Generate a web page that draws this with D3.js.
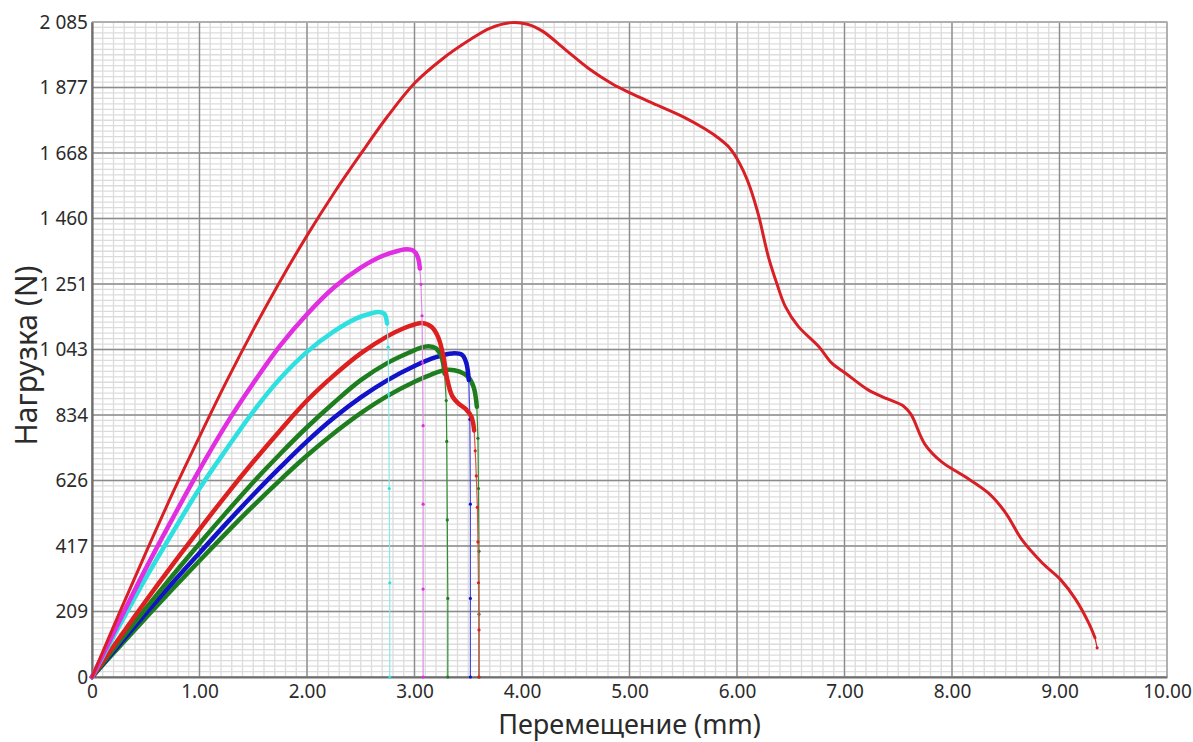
<!DOCTYPE html>
<html>
<head>
<meta charset="utf-8">
<script src="https://cdn.jsdelivr.net/npm/d3@7"></script>
<style>
  body { margin: 0; background: #fff; }
  svg { display: block; font-family: "Noto Sans", "Open Sans", sans-serif; }
</style>
</head>
<body>
<div id="chart-area"></div>
<script>
const margin = ({top: 22, right: 26, bottom: 65, left: 92});
const width = 1193, height = 742;

// Tick labels
const xTickValues = [0, 1, 2, 3, 4, 5, 6, 7, 8, 9, 10];
const xTickLabels = ["0", "1.00", "2.00", "3.00", "4.00", "5.00", "6.00", "7.00", "8.00", "9.00", "10.00"];
const yTickValues = [0, 208.5, 417, 625.5, 834, 1042.5, 1251, 1459.5, 1668, 1876.5, 2085];
const yTickLabels = ["0", "209", "417", "626", "834", "1 043", "1 251", "1 460", "1 668", "1 877", "2 085"];

// Series (x in mm, y in N)
const bigRedX = [0, 0.25, 0.5, 0.75, 1.0, 1.25, 1.5, 1.75, 2.0, 2.25, 2.5, 2.75, 3.0, 3.25, 3.5, 3.7, 3.9, 4.05, 4.19, 4.40, 4.62, 4.83, 5.00, 5.26, 5.50, 5.70, 5.83, 5.93, 6.00, 6.06, 6.12, 6.20, 6.29, 6.37, 6.45, 6.57, 6.76, 6.88, 7.01, 7.22, 7.40, 7.55, 7.62, 7.75, 7.91, 8.12, 8.34, 8.50, 8.65, 8.84, 9.01, 9.15, 9.27, 9.33];
const bigRedY = [0, 200, 395, 585, 765, 940, 1105, 1260, 1405, 1540, 1665, 1785, 1890, 1965, 2025, 2065, 2083, 2078, 2056, 1998, 1937, 1890, 1860, 1820, 1783, 1745, 1715, 1685, 1650, 1610, 1560, 1470, 1340, 1253, 1179, 1116, 1052, 1000, 967, 914, 885, 862, 835, 740, 683, 638, 585, 522, 437, 363, 310, 247, 173, 125];
const bigRedDropX = [9.35];
const bigRedDropY = [93];

const magentaX = [0, 0.25, 0.5, 0.75, 1.0, 1.25, 1.5, 1.75, 2.0, 2.25, 2.5, 2.7, 2.85, 2.93, 2.99, 3.03, 3.05];
const magentaY = [0, 175, 345, 505, 660, 805, 935, 1055, 1155, 1240, 1303, 1340, 1357, 1362, 1357, 1337, 1300];
const magentaDropX = [3.06, 3.07, 3.075, 3.08, 3.08, 3.08, 3.08];
const magentaDropY = [1250, 1150, 1000, 800, 550, 280, 0];

const cyanX = [0, 0.25, 0.5, 0.75, 1.0, 1.25, 1.5, 1.75, 2.0, 2.25, 2.45, 2.6, 2.67, 2.72, 2.745];
const cyanY = [0, 160, 315, 460, 600, 725, 845, 950, 1035, 1100, 1140, 1158, 1162, 1156, 1125];
const cyanDropX = [2.755, 2.76, 2.765, 2.77, 2.77];
const cyanDropY = [1050, 900, 600, 300, 0];

const redX = [0, 0.25, 0.5, 0.75, 1.0, 1.25, 1.5, 1.75, 2.0, 2.25, 2.5, 2.75, 2.9, 3.0, 3.07, 3.16, 3.22, 3.27, 3.30, 3.35, 3.41, 3.48, 3.53, 3.555];
const redY = [0, 122, 242, 358, 470, 580, 685, 785, 880, 960, 1030, 1085, 1110, 1122, 1127, 1114, 1082, 1019, 955, 895, 870, 852, 828, 785];
const redDropX = [3.565, 3.575, 3.585, 3.59, 3.595, 3.6, 3.6];
const redDropY = [720, 640, 540, 430, 300, 150, 0];

const green1X = [0, 0.25, 0.5, 0.75, 1.0, 1.25, 1.5, 1.75, 2.0, 2.25, 2.5, 2.75, 2.95, 3.05, 3.13, 3.2, 3.25, 3.28];
const green1Y = [0, 110, 218, 323, 425, 524, 620, 710, 795, 873, 945, 1000, 1033, 1047, 1053, 1046, 1020, 965];
const green1DropX = [3.295, 3.3, 3.305, 3.31, 3.31];
const green1DropY = [880, 750, 500, 250, 0];

const blueX = [0, 0.25, 0.5, 0.75, 1.0, 1.25, 1.5, 1.75, 2.0, 2.25, 2.5, 2.75, 3.0, 3.2, 3.35, 3.44, 3.48, 3.505];
const blueY = [0, 102, 202, 300, 395, 489, 580, 667, 750, 825, 890, 945, 990, 1018, 1030, 1026, 1002, 945];
const blueDropX = [3.515, 3.52, 3.52, 3.52];
const blueDropY = [820, 550, 250, 0];

const green2X = [0, 0.25, 0.5, 0.75, 1.0, 1.25, 1.5, 1.75, 2.0, 2.25, 2.5, 2.75, 3.0, 3.15, 3.3, 3.42, 3.5, 3.55, 3.58];
const green2Y = [0, 95, 188, 280, 370, 459, 545, 627, 705, 776, 840, 895, 940, 962, 978, 972, 955, 923, 860];
const green2DropX = [3.59, 3.595, 3.6, 3.6, 3.6];
const green2DropY = [760, 600, 400, 200, 0];

const zip = (xs, ys) => xs.map((v, i) => [v, ys[i]]);

// Drawing order: back to front
const series = [
    {x: green2X, y: green2Y, dx: green2DropX, dy: green2DropY, color: "#1e7d1e", drop: "#2f8f2f", w: 4.5},
    {x: blueX, y: blueY, dx: blueDropX, dy: blueDropY, color: "#1212c8", drop: "#4a4ae0", w: 4.5},
    {x: green1X, y: green1Y, dx: green1DropX, dy: green1DropY, color: "#1e7d1e", drop: "#2f8f2f", w: 4.5},
    {x: redX, y: redY, dx: redDropX, dy: redDropY, color: "#dc2020", drop: "#e05050", w: 4.5},
    {x: cyanX, y: cyanY, dx: cyanDropX, dy: cyanDropY, color: "#2fe0e0", drop: "#8ae6e6", w: 4.5},
    {x: magentaX, y: magentaY, dx: magentaDropX, dy: magentaDropY, color: "#e02ee0", drop: "#e28ae2", w: 4.5},
    {x: bigRedX, y: bigRedY, dx: bigRedDropX, dy: bigRedDropY, color: "#d81f26", drop: "#d81f26", w: 3}
];

const x = d3.scaleLinear()
    .domain([0, 10])
    .range([margin.left, width - margin.right]);

const y = d3.scaleLinear()
    .domain([0, 2085])
    .range([height - margin.bottom, margin.top]);

const svg = d3.select("#chart-area").append("svg")
    .attr("width", width)
    .attr("height", height);

svg.append("rect").attr("width", width).attr("height", height).attr("fill", "#fff");

// Minor grid
const minorX = d3.range(0, 101).map(i => i / 10);
const minorY = d3.range(0, 121).map(i => i * 2085 / 120);

const grid = svg.append("g");
grid.selectAll(".mx").data(minorX).enter().append("line")
    .attr("x1", d => x(d)).attr("x2", d => x(d))
    .attr("y1", y(0)).attr("y2", y(2085))
    .attr("stroke", "#dcdcdc").attr("stroke-width", 1.3);
grid.selectAll(".my").data(minorY).enter().append("line")
    .attr("x1", x(0)).attr("x2", x(10))
    .attr("y1", d => y(d)).attr("y2", d => y(d))
    .attr("stroke", "#dcdcdc").attr("stroke-width", 1.3);

// Major grid
grid.selectAll(".Mx").data(xTickValues).enter().append("line")
    .attr("x1", d => x(d)).attr("x2", d => x(d))
    .attr("y1", y(0)).attr("y2", y(2085))
    .attr("stroke", "#8c8c8c").attr("stroke-width", 1.4);
grid.selectAll(".My").data(yTickValues).enter().append("line")
    .attr("x1", x(0)).attr("x2", x(10))
    .attr("y1", d => y(d)).attr("y2", d => y(d))
    .attr("stroke", "#8c8c8c").attr("stroke-width", 1.4);

// Top / right border
svg.append("path")
    .attr("d", `M${x(0)},${y(2085)}H${x(10)}V${y(0)}`)
    .attr("fill", "none").attr("stroke", "#b4b4b4").attr("stroke-width", 1.5);

const xAxis = (g) => g
    .attr("transform", `translate(0,${y(0)})`)
    .call(d3.axisBottom(x).tickValues(xTickValues)
        .tickFormat((d, i) => xTickLabels[i]).tickSize(0).tickPadding(8))
    .call(g => g.select(".domain").attr("stroke", "#6e6e6e").attr("stroke-width", 2.2))
    .call(g => g.selectAll("text").attr("font-size", 19).attr("fill", "#2b2b2b")
        .attr("font-family", "\"Noto Sans\", sans-serif"));

const yAxis = (g) => g
    .attr("transform", `translate(${x(0)},0)`)
    .call(d3.axisLeft(y).tickValues(yTickValues)
        .tickFormat((d, i) => yTickLabels[i]).tickSize(0).tickPadding(4))
    .call(g => g.select(".domain").attr("stroke", "#6e6e6e").attr("stroke-width", 2.2))
    .call(g => g.selectAll("text").attr("font-size", 19).attr("fill", "#2b2b2b")
        .attr("font-family", "\"Noto Sans\", sans-serif"));

svg.append("g").call(xAxis);
svg.append("g").call(yAxis);

// Curves
const line = d3.line()
    .x(d => x(d[0]))
    .y(d => y(d[1]))
    .curve(d3.curveCatmullRom.alpha(0.5));

const thin = d3.line()
    .x(d => x(d[0]))
    .y(d => y(d[1]));

const curves = svg.append("g");

series.forEach(s => {
    const pts = zip(s.x, s.y);
    const drop = [pts[pts.length - 1]].concat(zip(s.dx, s.dy));

    curves.append("path")
        .attr("d", thin(drop))
        .attr("fill", "none")
        .attr("stroke", s.drop)
        .attr("stroke-width", 1.2);

    curves.append("g").selectAll("circle")
        .data(zip(s.dx, s.dy))
        .enter().append("circle")
        .attr("cx", d => x(d[0]))
        .attr("cy", d => y(d[1]))
        .attr("r", 1.6)
        .attr("fill", s.color);

    curves.append("path")
        .attr("d", line(pts))
        .attr("fill", "none")
        .attr("stroke", s.color)
        .attr("stroke-width", s.w)
        .attr("stroke-linejoin", "round")
        .attr("stroke-linecap", "round");
});

// Axis titles
svg.append("text")
    .attr("transform", `translate(37,${(y(0) + y(2085)) / 2 + 6}) rotate(-90)`)
    .attr("text-anchor", "middle")
    .attr("font-size", 30)
    .attr("fill", "#2b2b2b")
    .text("Нагрузка (N)");

svg.append("text")
    .attr("x", (x(0) + x(10)) / 2)
    .attr("y", 733.5)
    .attr("text-anchor", "middle")
    .attr("font-size", 27)
    .attr("fill", "#2b2b2b")
    .text("Перемещение (mm)");
</script>
</body>
</html>
